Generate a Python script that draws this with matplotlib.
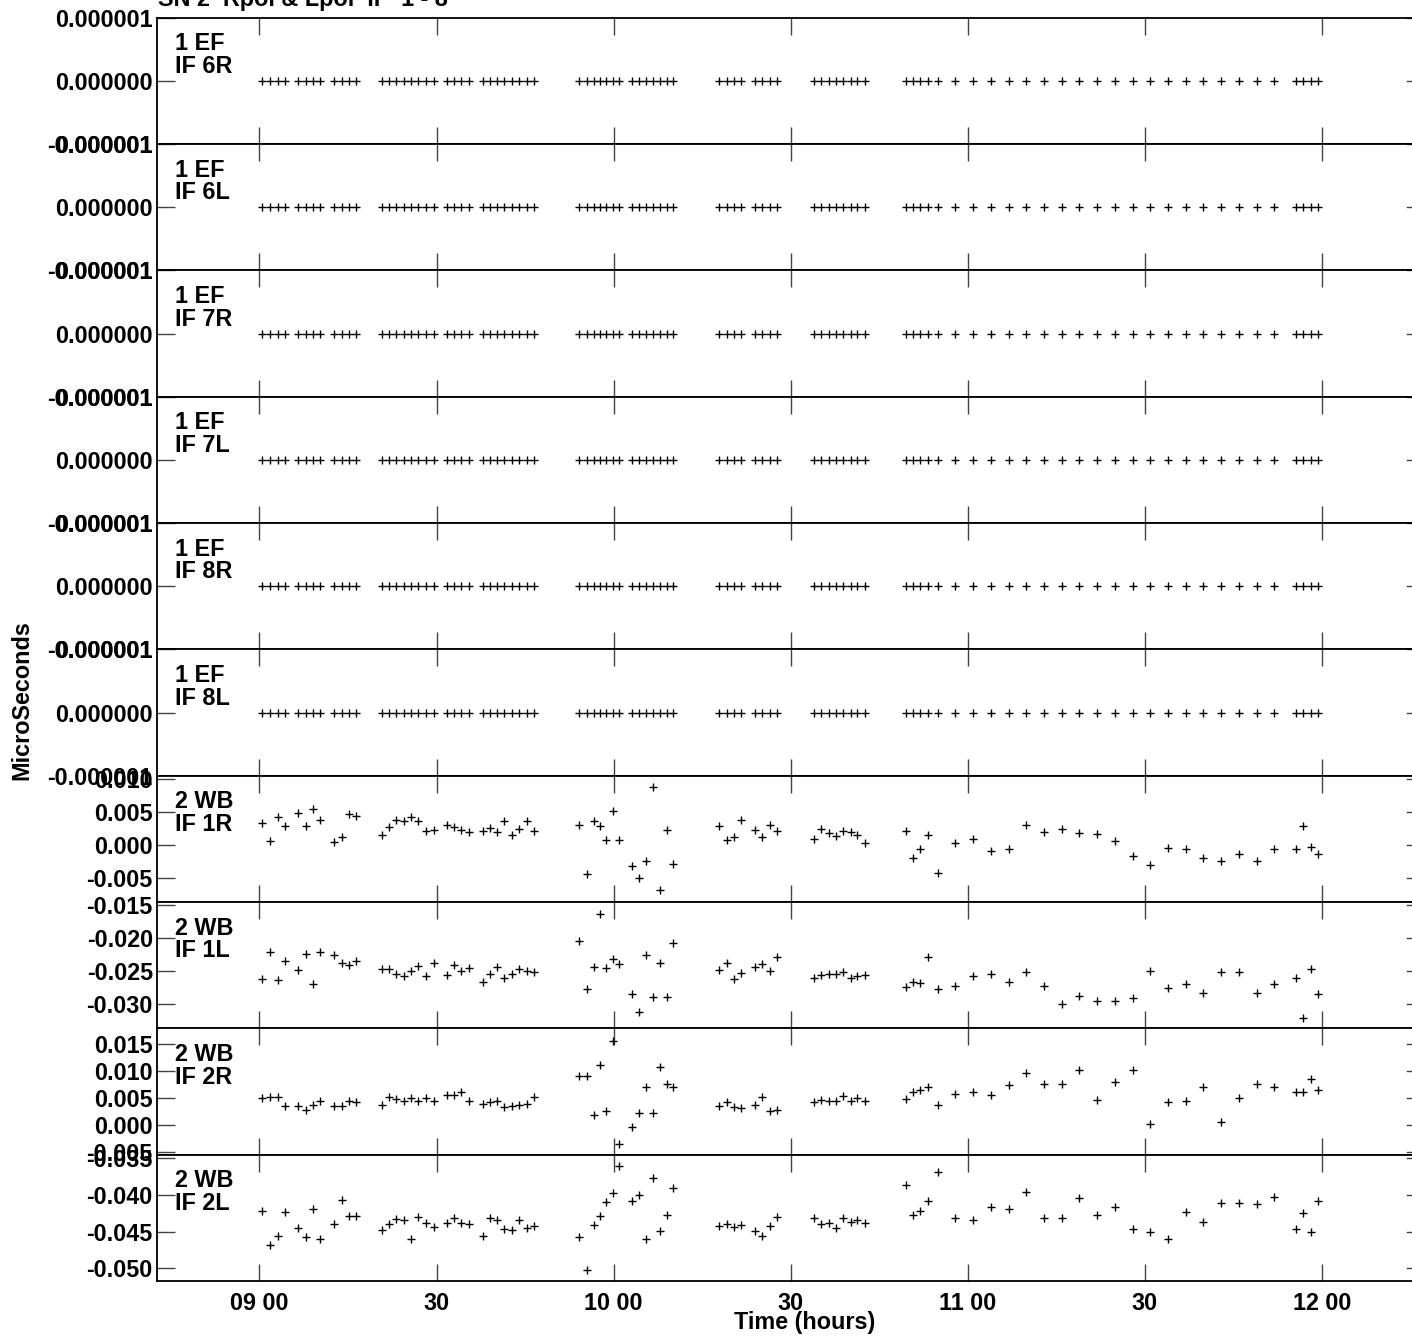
import matplotlib

matplotlib.use("Agg")
import matplotlib.pyplot as plt
from matplotlib.ticker import FixedLocator, FormatStrFormatter

plt.rcParams['font.family'] = ['Liberation Sans', 'DejaVu Sans']
plt.rcParams['font.weight'] = 'bold'
plt.rcParams['axes.unicode_minus'] = False

# scan times, minutes after 09:00
times = [0.5, 1.8, 3.1, 4.3, 6.6, 7.8, 9.1, 10.3, 12.6, 13.9, 15.1, 16.3,
         20.7, 22.0, 23.2, 24.4, 25.7, 26.9, 28.2, 29.5, 31.8, 33.0, 34.2, 35.5,
         37.8, 39.0, 40.3, 41.5, 42.8, 44.0, 45.3, 46.5,
         54.1, 55.4, 56.6, 57.7, 58.7, 59.9, 60.9, 63.1, 64.3, 65.5, 66.6, 67.8, 69.0, 70.1,
         77.9, 79.2, 80.4, 81.6, 83.9, 85.2, 86.4, 87.7,
         93.9, 95.2, 96.5, 97.6, 98.9, 100.2, 101.3, 102.6,
         109.5, 110.7, 111.9, 113.3, 114.9, 117.9, 120.9, 123.9, 126.9, 129.9, 132.9,
         135.9, 138.9, 141.9, 144.9, 147.9, 150.9, 153.9, 156.9, 159.9, 162.9, 165.9,
         168.9, 171.9, 175.6, 176.8, 178.1, 179.3]

# antenna 1 EF, IF 6-8 : all zero
ef_delay = [0.0] * len(times)

wb_if1r = [0.0034, 0.0007, 0.0043, 0.0029, 0.0049, 0.0029, 0.0055, 0.0038, 0.0005, 0.0012, 0.0047, 0.0044,
           0.0015, 0.0027, 0.0039, 0.0036, 0.0043, 0.0037, 0.0022, 0.0023, 0.0031, 0.0027, 0.0023, 0.0020,
           0.0021, 0.0026, 0.0020, 0.0036, 0.0015, 0.0025, 0.0037, 0.0022,
           0.0031, -0.0044, 0.0036, 0.0029, 0.0008, 0.0052, 0.0008, -0.0031, -0.0050, -0.0024, 0.0089, -0.0068,
           0.0023, -0.0029,
           0.0029, 0.0008, 0.0013, 0.0038, 0.0023, 0.0013, 0.0030, 0.0021,
           0.0010, 0.0024, 0.0018, 0.0014, 0.0021, 0.0020, 0.0016, 0.0004,
           0.0021, -0.0019, -0.0005, 0.0015, -0.0042, 0.0004, 0.0010, -0.0008, -0.0006, 0.0031, 0.0020,
           0.0024, 0.0018, 0.0017, 0.0006, -0.0016, -0.0030, -0.0004, -0.0006, -0.0019, -0.0024, -0.0013,
           -0.0024, -0.0006, -0.0006, 0.0029, -0.0002, -0.0014]

wb_if1l = [-0.0262, -0.0221, -0.0263, -0.0234, -0.0248, -0.0224, -0.0269, -0.0221, -0.0225, -0.0238, -0.0241, -0.0234,
           -0.0247, -0.0247, -0.0254, -0.0258, -0.0250, -0.0242, -0.0258, -0.0238, -0.0256, -0.0240, -0.0250, -0.0245,
           -0.0267, -0.0254, -0.0244, -0.0260, -0.0254, -0.0246, -0.0249, -0.0251,
           -0.0205, -0.0277, -0.0243, -0.0163, -0.0245, -0.0231, -0.0239, -0.0284, -0.0312, -0.0225, -0.0289, -0.0238,
           -0.0289, -0.0208,
           -0.0248, -0.0238, -0.0262, -0.0253, -0.0244, -0.0239, -0.0250, -0.0229,
           -0.0261, -0.0256, -0.0255, -0.0255, -0.0251, -0.0260, -0.0258, -0.0256,
           -0.0274, -0.0266, -0.0268, -0.0229, -0.0277, -0.0272, -0.0257, -0.0254, -0.0267, -0.0251, -0.0273,
           -0.0299, -0.0288, -0.0295, -0.0295, -0.0291, -0.0250, -0.0276, -0.0270, -0.0283, -0.0251, -0.0251,
           -0.0283, -0.0270, -0.0261, -0.0321, -0.0246, -0.0284]

wb_if2r = [0.0050, 0.0052, 0.0052, 0.0036, 0.0035, 0.0028, 0.0038, 0.0045, 0.0035, 0.0035, 0.0045, 0.0042,
           0.0037, 0.0052, 0.0048, 0.0045, 0.0050, 0.0045, 0.0050, 0.0045, 0.0056, 0.0055, 0.0062, 0.0045,
           0.0040, 0.0043, 0.0045, 0.0033, 0.0035, 0.0037, 0.0040, 0.0052,
           0.0090, 0.0090, 0.0019, 0.0112, 0.0026, 0.0156, -0.0034, -0.0004, 0.0023, 0.0070, 0.0023, 0.0107,
           0.0076, 0.0071,
           0.0035, 0.0043, 0.0034, 0.0032, 0.0037, 0.0052, 0.0026, 0.0029,
           0.0043, 0.0047, 0.0044, 0.0044, 0.0053, 0.0045, 0.0050, 0.0045,
           0.0049, 0.0062, 0.0065, 0.0070, 0.0037, 0.0058, 0.0062, 0.0056, 0.0075, 0.0096, 0.0076,
           0.0076, 0.0101, 0.0047, 0.0079, 0.0102, 0.0002, 0.0042, 0.0045, 0.0071, 0.0006, 0.0051,
           0.0076, 0.0071, 0.0062, 0.0062, 0.0086, 0.0065]

wb_if2l = [-0.0422, -0.0469, -0.0456, -0.0423, -0.0445, -0.0458, -0.0419, -0.0460, -0.0440, -0.0407, -0.0429, -0.0429,
           -0.0448, -0.0440, -0.0433, -0.0434, -0.0460, -0.0430, -0.0439, -0.0444, -0.0439, -0.0431, -0.0438, -0.0440,
           -0.0456, -0.0431, -0.0434, -0.0447, -0.0448, -0.0435, -0.0445, -0.0442,
           -0.0458, -0.0502, -0.0441, -0.0429, -0.0410, -0.0398, -0.0361, -0.0408, -0.0401, -0.0460, -0.0377, -0.0449,
           -0.0427, -0.0391,
           -0.0443, -0.0440, -0.0444, -0.0441, -0.0449, -0.0456, -0.0442, -0.0430,
           -0.0431, -0.0440, -0.0439, -0.0445, -0.0432, -0.0437, -0.0435, -0.0439,
           -0.0387, -0.0428, -0.0422, -0.0408, -0.0369, -0.0431, -0.0435, -0.0416, -0.0419, -0.0396, -0.0432,
           -0.0431, -0.0404, -0.0428, -0.0416, -0.0446, -0.0450, -0.0460, -0.0424, -0.0437, -0.0411, -0.0411,
           -0.0412, -0.0403, -0.0446, -0.0425, -0.0451, -0.0408]

panel_labels = ["1 EF\nIF 6R", "1 EF\nIF 6L", "1 EF\nIF 7R", "1 EF\nIF 7L", "1 EF\nIF 8R", "1 EF\nIF 8L",
                "2 WB\nIF 1R", "2 WB\nIF 1L", "2 WB\nIF 2R", "2 WB\nIF 2L"]
series = [ef_delay] * 6 + [wb_if1r, wb_if1l, wb_if2r, wb_if2l]

ef_ticks = [-0.000001, 0.0, 0.000001]
ylims = [(-0.000001, 0.000001)] * 6 + [(-0.0086, 0.01054), (-0.03364, -0.01455),
                                       (-0.00543, 0.01787), (-0.05173, -0.03455)]
yticks = [ef_ticks] * 6 + [[-0.005, 0.0, 0.005, 0.010], [-0.030, -0.025, -0.020, -0.015],
                           [-0.005, 0.0, 0.005, 0.010, 0.015], [-0.050, -0.045, -0.040, -0.035]]
yfmts = ['%.6f'] * 6 + ['%.3f'] * 4

xtick_pos = [0, 30, 60, 90, 120, 150, 180]
xtick_labels = ["09 00", "30", "10 00", "30", "11 00", "30", "12 00"]

W, H = 1412, 1338
fig, axes = plt.subplots(10, 1, figsize=(W / 100, H / 100), dpi=100, sharex=True)
fig.subplots_adjust(left=157 / W, right=1.0, top=1 - 17.7 / H, bottom=1 - 1281 / H, hspace=0)

fs = 16.8
for i, ax in enumerate(axes):
    ax.plot(times, series[i], '+', color='black', markersize=6, markeredgewidth=1.0)
    ax.set_ylim(ylims[i])
    ax.set_xlim(-17.36, 195.24)
    ax.yaxis.set_major_locator(FixedLocator(yticks[i]))
    ax.yaxis.set_major_formatter(FormatStrFormatter(yfmts[i]))
    ax.xaxis.set_major_locator(FixedLocator(xtick_pos))
    ax.tick_params(axis='x', which='major', direction='in', length=12.5, width=1.0,
                   color='#444444', top=True, bottom=True, labelbottom=(i == 9))
    ax.tick_params(axis='y', which='major', direction='in', length=13, width=1.0,
                   color='#444444', left=True, right=False, pad=3.0, labelsize=fs)
    ax.minorticks_off()
    for side in ['left', 'top', 'bottom']:
        ax.spines[side].set_linewidth(1.3)
        ax.spines[side].set_color('black')
    ax.spines['right'].set_visible(False)
    # short ticks on the right edge
    for yt in yticks[i]:
        ax.plot([0.996, 1.0], [yt, yt], color='#444444', lw=1.0,
                transform=ax.get_yaxis_transform(), clip_on=False)
    ax.annotate(panel_labels[i], xy=(0, 1), xycoords='axes fraction',
                xytext=(13, -10.5), textcoords='offset points',
                ha='left', va='top', fontsize=fs, fontweight='bold', linespacing=0.98)

axes[-1].set_xticks(xtick_pos)
axes[-1].set_xticklabels(xtick_labels, fontsize=fs, fontweight='bold')
axes[-1].tick_params(axis='x', pad=8)

fig.text(158 / W, 1 - 6 / H, "SN 2  Rpol & Lpol  IF  1 - 8", ha='left', va='baseline',
         fontsize=fs, fontweight='bold')
fig.text(22 / W, 1 - 700 / H, "MicroSeconds", rotation=90, ha='center', va='center',
         fontsize=fs, fontweight='bold')
fig.text(805 / W, 1 - 1323 / H, "Time (hours)", ha='center', va='center',
         fontsize=fs, fontweight='bold')

plt.savefig("out.png", dpi=100)
